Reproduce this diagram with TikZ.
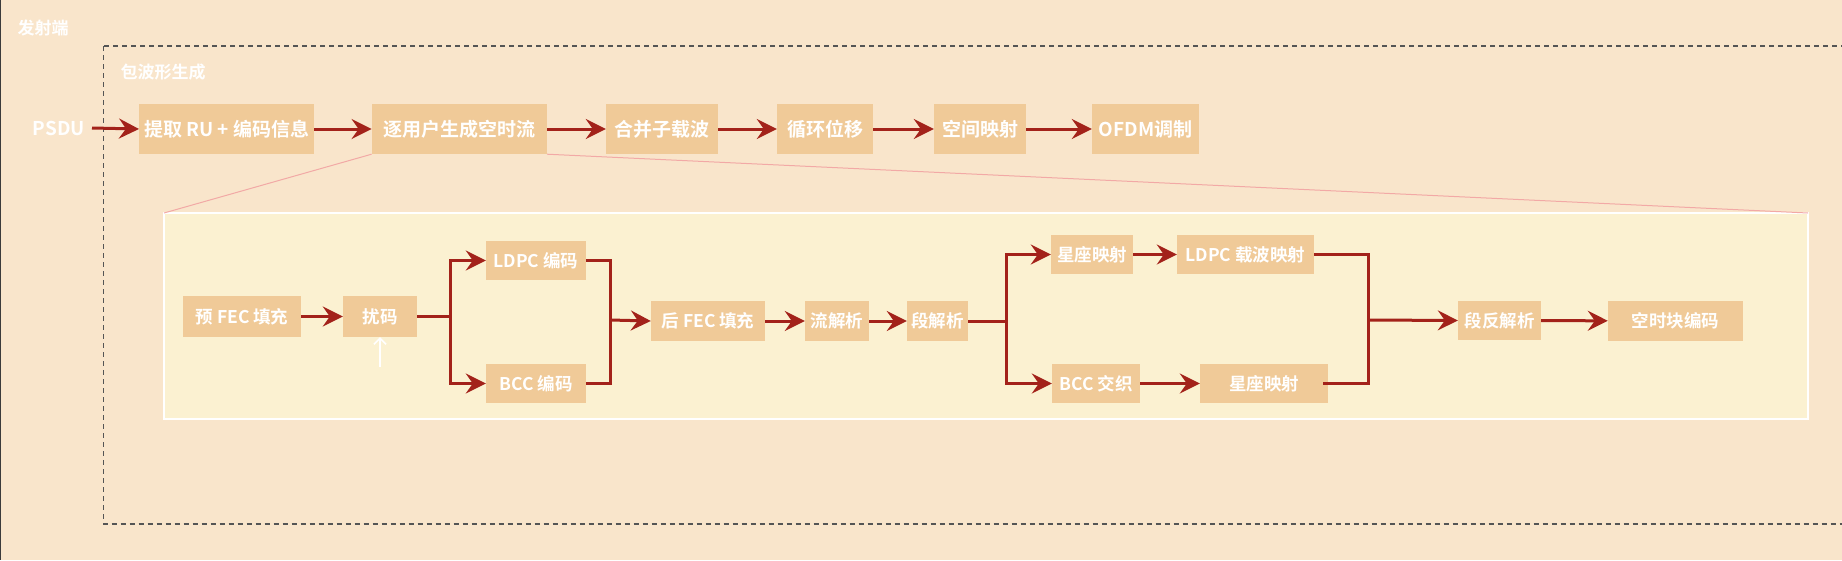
\documentclass[tikz,border=0pt]{standalone}
\usepackage{fontspec}
\setmainfont{Noto Sans CJK SC}[BoldFont={Noto Sans CJK SC Bold}]
\usetikzlibrary{arrows.meta}
\definecolor{bgc}{HTML}{F9E5CB}
\definecolor{innerc}{HTML}{FBF1D1}
\definecolor{nodec}{HTML}{F0CA98}
\definecolor{arrc}{HTML}{A3221A}
\definecolor{pinkc}{HTML}{F2A9A6}
\definecolor{dashc}{HTML}{555555}
\tikzset{
  box/.style={fill=nodec, text=white, font=\fontsize{17.5}{19}\selectfont\bfseries, inner sep=0pt, align=center},
  topbox/.style={box, font=\fontsize{19}{21}\selectfont\bfseries, minimum height=50pt},
  flow/.style={draw=arrc, line width=3pt, -{Stealth[length=20pt,width=20pt,inset=7pt]}},
  link/.style={draw=arrc, line width=3pt},
  lbl/.style={text=white, font=\fontsize{17}{19}\selectfont\bfseries, inner sep=0pt},
}
\begin{document}
\begin{tikzpicture}[x=1pt,y=-1pt]
\useasboundingbox (0,0) rectangle (1842,560);
\fill[bgc] (0,0) rectangle (1842,560);
\draw[dashc!70!black, line width=1pt] (0.5,0) -- (0.5,560);
\node[lbl] (tx) at (43,28) {发射端};
\begin{scope}
\clip (0,0) rectangle (1842,560);
\draw[dashc, line width=1.2pt, dash pattern=on 5pt off 4pt] (103.5,46) rectangle (1860,524);
\end{scope}
\node[lbl] (pw) at (163,72) {包波形生成};
% inner box
\draw[white, line width=1.2pt, fill=innerc] (164,213) rectangle (1808,419);
\coordinate (itl) at (164,213);
\coordinate (itr) at (1808,213);
% top row
\node[lbl, font=\fontsize{19}{21}\selectfont\bfseries] (psdu) at (59,128) {PSDU};
\node[topbox, minimum width=175pt] (b1) at (226.7,129) {提取 RU + 编码信息};
\node[topbox, minimum width=175pt] (b2) at (459.3,129) {逐用户生成空时流};
\node[topbox, minimum width=112pt] (b3) at (662,129) {合并子载波};
\node[topbox, minimum width=96pt] (b4) at (825,129) {循环位移};
\node[topbox, minimum width=92pt] (b5) at (980,129) {空间映射};
\node[topbox, minimum width=107pt] (b6) at (1145.5,129) {OFDM调制};
\coordinate (ps) at (92,128);
\draw[flow] (ps) -- (b1.west);
\draw[flow] (b1) -- (b2);
\draw[flow] (b2) -- (b3);
\draw[flow] (b3) -- (b4);
\draw[flow] (b4) -- (b5);
\draw[flow] (b5) -- (b6);
\draw[pinkc, line width=1pt] (b2.south west) -- (itl);
\draw[pinkc, line width=1pt] (b2.south east) -- (itr);
% inner nodes
\node[box, minimum width=118pt, minimum height=41pt] (i1) at (242,316.5) {预 FEC 填充};
\node[box, minimum width=74pt, minimum height=41pt] (i2) at (380,316.5) {扰码};
\node[box, minimum width=100pt, minimum height=39pt] (i3) at (536,260.5) {LDPC 编码};
\node[box, minimum width=100pt, minimum height=39pt] (i4) at (536,383.5) {BCC 编码};
\node[box, minimum width=114pt, minimum height=40pt] (i5) at (708,321) {后 FEC 填充};
\node[box, minimum width=64pt, minimum height=40pt] (i6) at (837,321) {流解析};
\node[box, minimum width=61pt, minimum height=40pt] (i7) at (937.5,321) {段解析};
\node[box, minimum width=82pt, minimum height=39pt] (i8) at (1092,254.5) {星座映射};
\node[box, minimum width=137pt, minimum height=39pt] (i9) at (1245.5,254.5) {LDPC 载波映射};
\node[box, minimum width=88pt, minimum height=39pt] (i10) at (1096,383.5) {BCC 交织};
\node[box, minimum width=128pt, minimum height=39pt] (i11) at (1264,383.5) {星座映射};
\node[box, minimum width=83pt, minimum height=39pt] (i12) at (1499.5,320.5) {段反解析};
\node[box, minimum width=135pt, minimum height=40pt] (i13) at (1675.5,321) {空时块编码};
\coordinate (wa) at (380,367);
\draw[white, line width=1.5pt, -{Straight Barb[length=6pt,width=12pt]}] (wa) -- (i2.south);
\draw[flow] (i1) -- (i2);
\draw[link] (i2.east) -- (450,316.5);
\draw[flow] (450,316.5) |- (i3.west);
\draw[flow] (450,316.5) |- (i4.west);
\draw[link] (i3.east) -| (610,320);
\draw[link] (i4.east) -| (610,320);
\draw[flow] (610,320) -- (i5.west);
\draw[flow] (i5) -- (i6);
\draw[flow] (i6) -- (i7);
\draw[link] (i7.east) -- (1006,321);
\draw[flow] (1006,321) |- (i8.west);
\draw[flow] (1006,321) |- (i10.west);
\draw[flow] (i8) -- (i9);
\draw[flow] (i10) -- (i11);
\draw[link] (i9.east) -| (1368,320);
\draw[link] ([xshift=-5pt]i11.east) -| (1368,320);
\draw[flow] (1368,320) -- (i12.west);
\draw[flow] (i12) -- (i13);
\end{tikzpicture}
\end{document}
